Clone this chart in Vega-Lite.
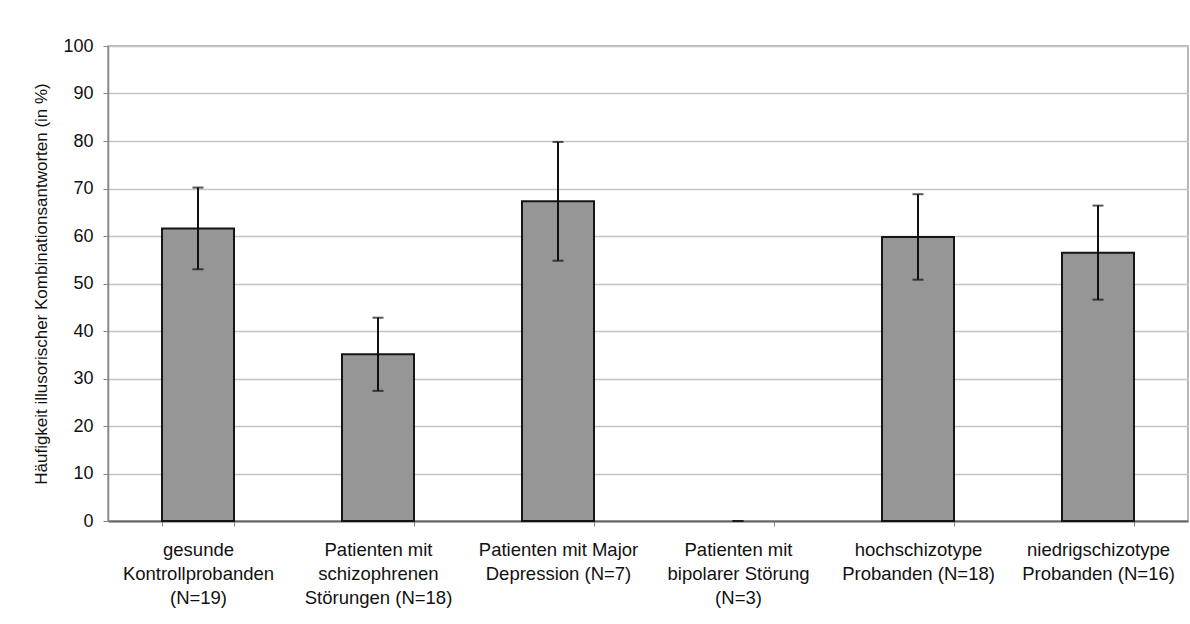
{
  "$schema": "https://vega.github.io/schema/vega-lite/v6.json",
  "width": 1080,
  "height": 475,
  "autosize": "none",
  "padding": {"left": 108, "top": 46, "right": 2, "bottom": 103},
  "background": "white",
  "config": {
    "font": "Liberation Sans",
    "view": {"stroke": "#a0a0a0", "strokeWidth": 1.5}
  },
  "data": {
    "values": [
      {"gruppe": "gesunde|Kontrollprobanden|(N=19)", "mittelwert": 61.6, "unten": 53.0, "oben": 70.2},
      {"gruppe": "Patienten mit|schizophrenen|Störungen (N=18)", "mittelwert": 35.1, "unten": 27.4, "oben": 42.8},
      {"gruppe": "Patienten mit Major|Depression (N=7)", "mittelwert": 67.3, "unten": 54.8, "oben": 79.8},
      {"gruppe": "Patienten mit|bipolarer Störung|(N=3)", "mittelwert": 0, "unten": 0, "oben": 0},
      {"gruppe": "hochschizotype|Probanden (N=18)", "mittelwert": 59.8, "unten": 50.8, "oben": 68.8},
      {"gruppe": "niedrigschizotype|Probanden (N=16)", "mittelwert": 56.5, "unten": 46.6, "oben": 66.4}
    ]
  },
  "encoding": {
    "x": {
      "field": "gruppe",
      "type": "nominal",
      "sort": null,
      "scale": {"paddingInner": 0.6, "paddingOuter": 0.3},
      "axis": {
        "title": null,
        "labelAngle": 0,
        "labelExpr": "split(datum.label, '|')",
        "labelFontSize": 18.5,
        "labelLineHeight": 24,
        "labelColor": "#111",
        "labelPadding": 14,
        "labelBaseline": "top",
        "tickBand": "extent",
        "tickSize": 5,
        "tickColor": "#888",
        "domainColor": "#666",
        "domainWidth": 2,
        "grid": false
      }
    }
  },
  "layer": [
    {
      "mark": {"type": "bar", "fill": "#969696", "stroke": "#151515"},
      "encoding": {
        "y": {
          "field": "mittelwert",
          "type": "quantitative",
          "scale": {"domain": [0, 100], "nice": false},
          "axis": {
            "title": "Häufigkeit illusorischer Kombinationsantworten (in %)",
            "titleFont": "Liberation Sans",
            "titleFontSize": 17,
            "titleFontWeight": "normal",
            "titleColor": "#111",
            "titlePadding": 12,
            "values": [0, 10, 20, 30, 40, 50, 60, 70, 80, 90, 100],
            "labelFontSize": 18,
            "labelColor": "#111",
            "labelPadding": 10,
            "tickSize": 5,
            "tickColor": "#888",
            "domainColor": "#888",
            "domainWidth": 1.5,
            "gridColor": "#c4c4c4",
            "gridWidth": 1.5
          }
        },
        "strokeWidth": {"condition": {"test": "datum.mittelwert > 0", "value": 2}, "value": 0}
      }
    },
    {
      "mark": {"type": "rule", "color": "#111", "strokeWidth": 2},
      "encoding": {
        "y": {"field": "unten", "type": "quantitative"},
        "y2": {"field": "oben"}
      }
    },
    {
      "mark": {"type": "tick", "color": "#111", "size": 11, "thickness": 2},
      "encoding": {"y": {"field": "unten", "type": "quantitative"}}
    },
    {
      "mark": {"type": "tick", "color": "#111", "size": 11, "thickness": 2},
      "encoding": {"y": {"field": "oben", "type": "quantitative"}}
    }
  ]
}
